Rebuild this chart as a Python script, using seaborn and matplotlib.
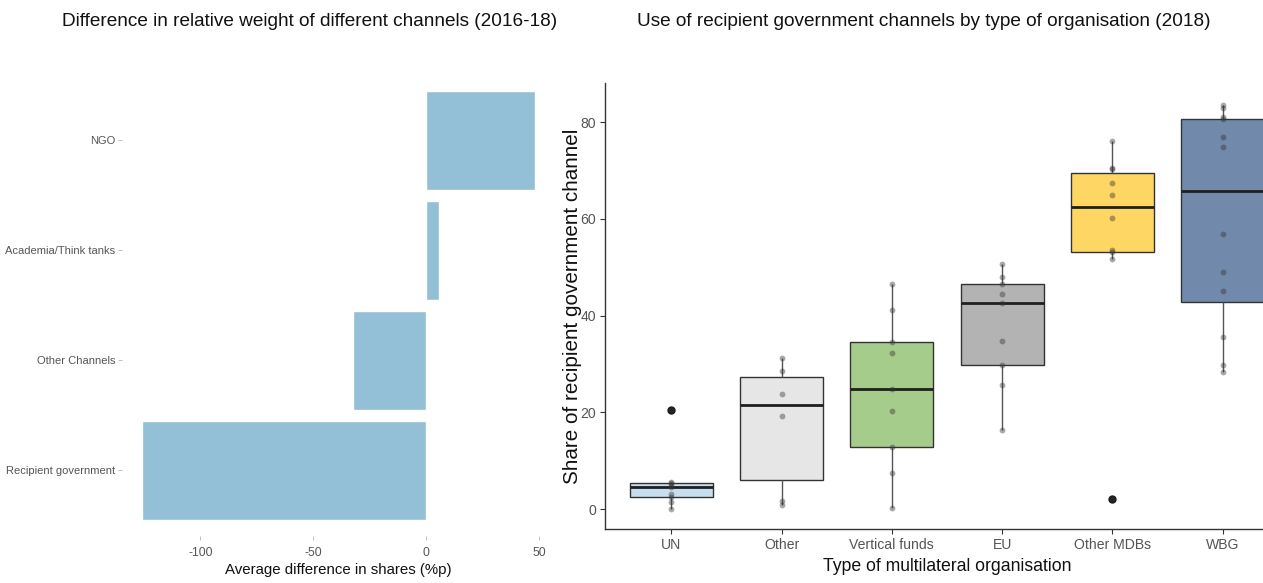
import numpy as np
import pandas as pd
import matplotlib
matplotlib.use("Agg")
import matplotlib.pyplot as plt
from matplotlib import font_manager
import seaborn as sns

# ---- data -------------------------------------------------------------
channels = ["NGO", "Academia/Think tanks", "Other Channels", "Recipient government"]
share_diff = [48.4, 5.5, -32.3, -125.8]

org_types = ["UN", "Other", "Vertical funds", "EU", "Other MDBs", "WBG"]
un_vals = [0.0, 1.5, 2.6, 3.2, 4.5, 5.0, 5.4, 5.6, 20.6]
other_vals = [0.8, 1.7, 19.2, 23.9, 28.5, 31.2]
vertical_vals = [0.3, 7.4, 12.9, 20.3, 24.8, 32.2, 34.5, 41.2, 46.5]
eu_vals = [16.3, 25.6, 29.9, 34.8, 42.6, 44.4, 46.6, 48.0, 50.7]
mdb_vals = [2.1, 51.7, 53.1, 53.6, 60.2, 64.9, 67.4, 70.3, 70.6, 76.1]
wbg_vals = [28.3, 29.9, 35.5, 45.2, 49.0, 56.9, 74.8, 77.0, 80.6, 81.1, 82.9, 83.6]

box_colors = ["#c5dfee", "#e6e6e6", "#a6cc8b", "#b3b3b3", "#fdd664", "#7189ab"]
bar_color = "#93bfd7"

# ---- fonts ------------------------------------------------------------
sns.set_theme(style="white")


def has_font(name):
    try:
        font_manager.findfont(name, fallback_to_default=False)
        return True
    except Exception:
        return False


main_font = "Liberation Sans" if has_font("Liberation Sans") else "DejaVu Sans"
plt.rcParams["font.family"] = [main_font, "DejaVu Sans"]

# ---- long-form table for the box plot ---------------------------------
groups = [un_vals, other_vals, vertical_vals, eu_vals, mdb_vals, wbg_vals]
box_df = pd.DataFrame({
    "org": np.concatenate([[o] * len(v) for o, v in zip(org_types, groups)]),
    "share": np.concatenate(groups),
})
bar_df = pd.DataFrame({"channel": channels, "diff": share_diff})

# ---- figure -----------------------------------------------------------
W, H = 1263, 583
fig = plt.figure(figsize=(W / 100, H / 100), dpi=100)
fig.patch.set_facecolor("white")


def px_axes(left, top, right, bottom):
    return fig.add_axes([left / W, 1 - bottom / H, (right - left) / W, (bottom - top) / H])


# left panel: horizontal bars
ax1 = px_axes(122, 74, 555, 536)
sns.barplot(data=bar_df, x="diff", y="channel", order=channels, orient="h",
            color=bar_color, width=0.9, saturation=1, ax=ax1)
ax1.set_xlim(-134.7, 57.1)
ax1.set_ylim(3.6, -0.6)
ax1.set_xticks([-100, -50, 0, 50])
ax1.set_xticklabels(["-100", "-50", "0", "50"])
for s in ax1.spines.values():
    s.set_visible(False)
ax1.tick_params(axis="y", length=3, width=0.6, color="#b5b5b5", colors="#555555",
                left=True, pad=2)
ax1.tick_params(axis="x", length=3, width=0.6, color="#b5b5b5", colors="#555555",
                bottom=True, pad=5)
for lab in ax1.get_yticklabels():
    lab.set_fontsize(8.0)
    lab.set_color("#555555")
for lab in ax1.get_xticklabels():
    lab.set_fontsize(8.8)
    lab.set_color("#555555")
ax1.set_ylabel("")
ax1.set_xlabel("Average difference in shares (%p)", fontsize=10.8, color="#111111",
               labelpad=3)
ax1.grid(False)

# right panel: box plot with the individual values on top
ax2 = px_axes(605, 83, 1289, 529)
sns.boxplot(data=box_df, x="org", y="share", order=org_types, hue="org",
            hue_order=org_types, palette=box_colors, legend=False, width=0.75,
            saturation=1, showcaps=False, linewidth=1.0, linecolor="#333333",
            whis=1.5, ax=ax2,
            medianprops=dict(color="#1f1f1f", linewidth=2.0),
            whiskerprops=dict(color="#555555", linewidth=1.0),
            flierprops=dict(marker="o", markerfacecolor="#1a1a1a",
                            markeredgecolor="#1a1a1a", markersize=5))
sns.stripplot(data=box_df, x="org", y="share", order=org_types, jitter=False,
              color="#333333", alpha=0.42, size=4.2, linewidth=0, ax=ax2)
ax2.set_xlim(-0.6, 5.6)
ax2.set_ylim(-4.1, 88.1)
ax2.set_yticks([0, 20, 40, 60, 80])
for side in ["top", "right"]:
    ax2.spines[side].set_visible(False)
for side in ["left", "bottom"]:
    ax2.spines[side].set_color("#333333")
    ax2.spines[side].set_linewidth(1.0)
ax2.tick_params(axis="both", length=3.5, width=0.8, color="#333333", labelcolor="#555555",
                labelsize=10.1, bottom=True, left=True, pad=3)
ax2.set_xlabel("Type of multilateral organisation", fontsize=12.7, color="#111111", labelpad=4)
ax2.set_ylabel("Share of recipient government channel", fontsize=14.9, color="#111111",
               labelpad=-1)
ax2.grid(False)

# panel titles
fig.text(310 / W, 1 - 22 / H, "Difference in relative weight of different channels (2016-18)",
         ha="center", va="center", fontsize=13.7, color="#111111")
fig.text(924 / W, 1 - 22 / H, "Use of recipient government channels by type of organisation (2018)",
         ha="center", va="center", fontsize=13.7, color="#111111")

fig.savefig("out.png", dpi=100)
